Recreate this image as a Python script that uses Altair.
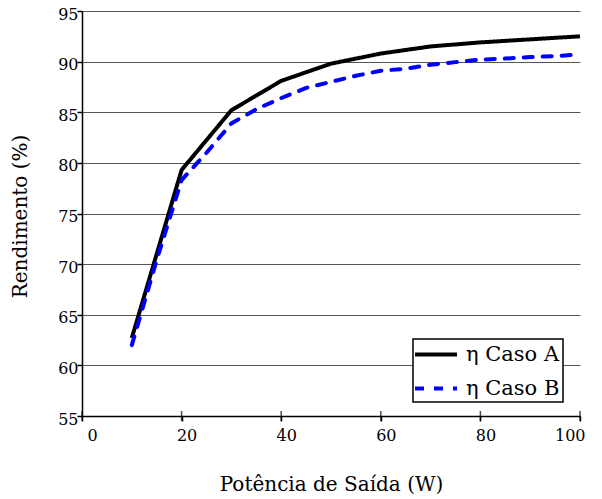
import altair as alt
import pandas as pd

# Efficiency curves (%) versus output power (W)
serie_names = ["η Caso A", "η Caso B"]

power_a = [10, 20, 30, 40, 50, 60, 70, 80, 90, 100]
eff_a = [62.7, 79.3, 85.2, 88.1, 89.8, 90.8, 91.5, 91.9, 92.2, 92.5]

power_b = [10, 15, 20, 25, 30, 35, 40, 45, 50, 55, 60, 65, 70, 75, 80, 85, 90, 95, 100]
eff_b = [62.0, 70.4, 78.3, 81.0, 83.9, 85.3, 86.4, 87.4, 88.0, 88.6, 89.1, 89.3,
         89.7, 89.95, 90.2, 90.3, 90.45, 90.55, 90.7]

x_ticks = [0, 20, 40, 60, 80, 100]
y_ticks = [55, 60, 65, 70, 75, 80, 85, 90, 95]

df = pd.concat([
    pd.DataFrame({"p": power_a, "eta": eff_a, "serie": serie_names[0]}),
    pd.DataFrame({"p": power_b, "eta": eff_b, "serie": serie_names[1]}),
])
tick_df = pd.DataFrame({"p": x_ticks, "eta": [y_ticks[0]] * len(x_ticks)})

FONT = "DejaVu Serif"

x_enc = alt.X(
    "p:Q",
    scale=alt.Scale(domain=[0, 100], nice=False),
    axis=alt.Axis(
        values=x_ticks, grid=False, title="Potência de Saída (W)",
        tickSize=5, labelPadding=6, labelOffset=5,
        titleBaseline="alphabetic", titleY=74,
    ),
)
y_enc = alt.Y(
    "eta:Q",
    scale=alt.Scale(domain=[55, 95], nice=False),
    axis=alt.Axis(
        values=y_ticks, grid=True, title="Rendimento (%)",
        tickSize=5, labelPadding=-1, labelOffset=3,
        titleBaseline="alphabetic", titleX=-56, titleY=205,
    ),
)
color_enc = alt.Color(
    "serie:N",
    scale=alt.Scale(domain=serie_names, range=["black", "blue"]),
    legend=alt.Legend(title=None),
)
dash_enc = alt.StrokeDash(
    "serie:N",
    scale=alt.Scale(domain=serie_names, range=[[1, 0], [9, 10]]),
    legend=alt.Legend(title=None),
)

line_a = alt.Chart(df).transform_filter(
    alt.datum.serie == serie_names[0]
).mark_line(strokeWidth=4, strokeCap="butt").encode(
    x=x_enc, y=y_enc, color=color_enc, strokeDash=dash_enc
)

line_b = alt.Chart(df).transform_filter(
    alt.datum.serie == serie_names[1]
).mark_line(strokeWidth=4, strokeCap="round").encode(
    x="p:Q", y="eta:Q", color=color_enc, strokeDash=dash_enc
)

# crossing tick marks on the x axis
cross_ticks = alt.Chart(tick_df).mark_tick(
    orient="vertical", size=10, thickness=1.5, color="black"
).encode(x="p:Q", y="eta:Q")

chart = alt.layer(line_a, line_b, cross_ticks).properties(
    width=498,
    height=405,
    autosize=alt.AutoSizeParams(type="none"),
    padding={"left": 82, "top": 11, "right": 22, "bottom": 83},
).configure(
    font=FONT
).configure_view(
    stroke=None
).configure_axis(
    domainColor="black", domainWidth=1.5,
    tickColor="black", tickWidth=1.5,
    gridColor="#555555", gridWidth=1,
    labelFont=FONT, labelFontSize=16, labelColor="black",
    titleFont=FONT, titleFontSize=20, titleFontWeight="normal", titleColor="black",
).configure_legend(
    orient="none", legendX=331, legendY=328,
    fillColor="white", strokeColor="black", strokeWidth=1.5,
    padding=3,
    # wide, flat line symbol: long stroke on a small symbol size
    symbolType="M-2,0H2", symbolSize=441, symbolStrokeWidth=4,
    symbolOffset=7.5,
    labelFont=FONT, labelFontSize=21, labelColor="black", labelOffset=17.5,
    rowPadding=11,
)

chart.save("out.html", embed_options={"renderer": "svg", "actions": False})
